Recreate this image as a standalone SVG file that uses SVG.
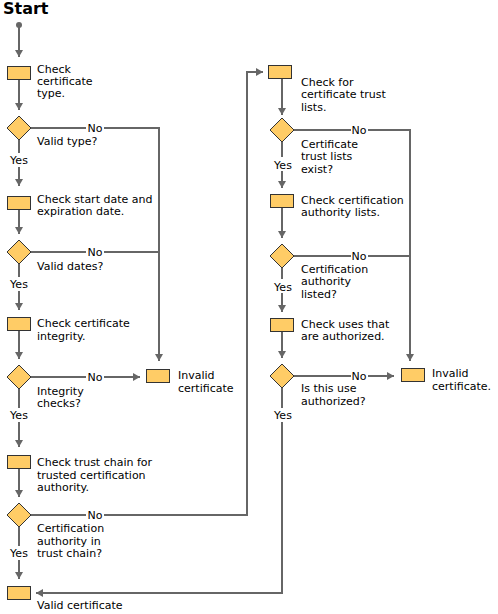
<svg xmlns="http://www.w3.org/2000/svg" width="498" height="614" viewBox="0 0 498 614">
<style>
.box{fill:#FFCC66;stroke:#333;stroke-width:1}
.c{fill:none;stroke:#666;stroke-width:2}
text{font-family:"DejaVu Sans","Liberation Sans",sans-serif;font-size:11px;fill:#000}
.lbl{text-anchor:middle}
</style>
<defs>
<marker id="ah" markerUnits="userSpaceOnUse" markerWidth="8" markerHeight="8" refX="7" refY="4" orient="auto">
<path d="M0,0 L7,4 L0,8 Z" fill="#666"/>
</marker>
</defs>
<rect width="498" height="614" fill="#fff"/>
<text x="3" y="14" style="font-size:16px;font-weight:bold">Start</text>
<circle cx="19" cy="25" r="3" fill="#666"/>
<g id="connectors">
<path class="c" d="M19,25 V57" marker-end="url(#ah)"/>
<path class="c" d="M19,79 V110" marker-end="url(#ah)"/>
<path class="c" d="M19,140 V153"/>
<path class="c" d="M19,167 V186" marker-end="url(#ah)"/>
<path class="c" d="M19,209 V234" marker-end="url(#ah)"/>
<path class="c" d="M19,264 V277"/>
<path class="c" d="M19,291 V310" marker-end="url(#ah)"/>
<path class="c" d="M19,331 V359" marker-end="url(#ah)"/>
<path class="c" d="M19,389 V408"/>
<path class="c" d="M19,422 V447" marker-end="url(#ah)"/>
<path class="c" d="M19,469 V497" marker-end="url(#ah)"/>
<path class="c" d="M19,527 V546"/>
<path class="c" d="M19,560 V579" marker-end="url(#ah)"/>
<path class="c" d="M31,128 H86"/>
<path class="c" d="M104,128 H159 V361" marker-end="url(#ah)"/>
<path class="c" d="M31,252 H86"/>
<path class="c" d="M104,252 H159"/>
<path class="c" d="M31,377 H86"/>
<path class="c" d="M104,377 H140" marker-end="url(#ah)"/>
<path class="c" d="M31,515 H86"/>
<path class="c" d="M104,515 H247 V72 H263" marker-end="url(#ah)"/>
<path class="c" d="M282,78 V115" marker-end="url(#ah)"/>
<path class="c" d="M282,142 V157"/>
<path class="c" d="M282,171 V188" marker-end="url(#ah)"/>
<path class="c" d="M282,208 V238" marker-end="url(#ah)"/>
<path class="c" d="M282,268 V279"/>
<path class="c" d="M282,293 V312" marker-end="url(#ah)"/>
<path class="c" d="M282,332 V358" marker-end="url(#ah)"/>
<path class="c" d="M282,388 V408"/>
<path class="c" d="M282,422 V593 H36" marker-end="url(#ah)"/>
<path class="c" d="M294,130 H351"/>
<path class="c" d="M368,130 H410 V361" marker-end="url(#ah)"/>
<path class="c" d="M294,256 H351"/>
<path class="c" d="M368,256 H410"/>
<path class="c" d="M294,376 H351"/>
<path class="c" d="M368,376 H394" marker-end="url(#ah)"/>
<text class="lbl" x="95" y="132">No</text>
<text class="lbl" x="95" y="256">No</text>
<text class="lbl" x="95" y="381">No</text>
<text class="lbl" x="95" y="519">No</text>
<text class="lbl" x="359" y="134">No</text>
<text class="lbl" x="359" y="260">No</text>
<text class="lbl" x="359" y="380">No</text>
<text class="lbl" x="19" y="164">Yes</text>
<text class="lbl" x="19" y="288">Yes</text>
<text class="lbl" x="19" y="419">Yes</text>
<text class="lbl" x="19" y="557">Yes</text>
<text class="lbl" x="283" y="169">Yes</text>
<text class="lbl" x="283" y="291">Yes</text>
<text class="lbl" x="283" y="419">Yes</text>
</g>
<g id="n1"><rect class="box" x="7.5" y="66.5" width="23" height="13"/>
<text x="37" y="73">Check</text><text x="37" y="85">certificate</text><text x="37" y="97">type.</text></g>
<g id="d1"><polygon class="box" points="19,116 31,128 19,140 7,128"/>
<text x="37" y="145">Valid type?</text></g>
<g id="n2"><rect class="box" x="7.5" y="196.5" width="23" height="13"/>
<text x="37" y="203">Check start date and</text><text x="37" y="215">expiration date.</text></g>
<g id="d2"><polygon class="box" points="19,240 31,252 19,264 7,252"/>
<text x="37" y="270">Valid dates?</text></g>
<g id="n3"><rect class="box" x="7.5" y="317.5" width="23" height="13"/>
<text x="37" y="327">Check certificate</text><text x="37" y="340">integrity.</text></g>
<g id="d3"><polygon class="box" points="19,365 31,377 19,389 7,377"/>
<text x="37" y="395">Integrity</text><text x="37" y="407">checks?</text></g>
<g id="inv1"><rect class="box" x="146.5" y="369.5" width="23" height="13"/>
<text x="178" y="379">Invalid</text><text x="178" y="392">certificate</text></g>
<g id="n4"><rect class="box" x="7.5" y="455.5" width="23" height="13"/>
<text x="37" y="466">Check trust chain for</text><text x="37" y="479">trusted certification</text><text x="37" y="491">authority.</text></g>
<g id="d5"><polygon class="box" points="19,503 31,515 19,527 7,515"/>
<text x="37" y="532">Certification</text><text x="37" y="545">authority in</text><text x="37" y="557">trust chain?</text></g>
<g id="valid"><rect class="box" x="7.5" y="586.5" width="23" height="13"/>
<text x="37" y="609">Valid certificate</text></g>
<g id="r1"><rect class="box" x="268.5" y="65.5" width="23" height="13"/>
<text x="301" y="86">Check for</text><text x="301" y="98">certificate trust</text><text x="301" y="111">lists.</text></g>
<g id="rd1"><polygon class="box" points="282,118 294,130 282,142 270,130"/>
<text x="301" y="148">Certificate</text><text x="301" y="160">trust lists</text><text x="301" y="173">exist?</text></g>
<g id="r2"><rect class="box" x="270.5" y="194.5" width="23" height="13"/>
<text x="301" y="204">Check certification</text><text x="301" y="216">authority lists.</text></g>
<g id="rd2"><polygon class="box" points="282,244 294,256 282,268 270,256"/>
<text x="301" y="273">Certification</text><text x="301" y="285">authority</text><text x="301" y="298">listed?</text></g>
<g id="r3"><rect class="box" x="270.5" y="318.5" width="23" height="13"/>
<text x="301" y="328">Check uses that</text><text x="301" y="340">are authorized.</text></g>
<g id="rd3"><polygon class="box" points="282,364 294,376 282,388 270,376"/>
<text x="301" y="392">Is this use</text><text x="301" y="405">authorized?</text></g>
<g id="inv2"><rect class="box" x="401.5" y="368.5" width="23" height="13"/>
<text x="432" y="377">Invalid</text><text x="432" y="390">certificate.</text></g>
</svg>
